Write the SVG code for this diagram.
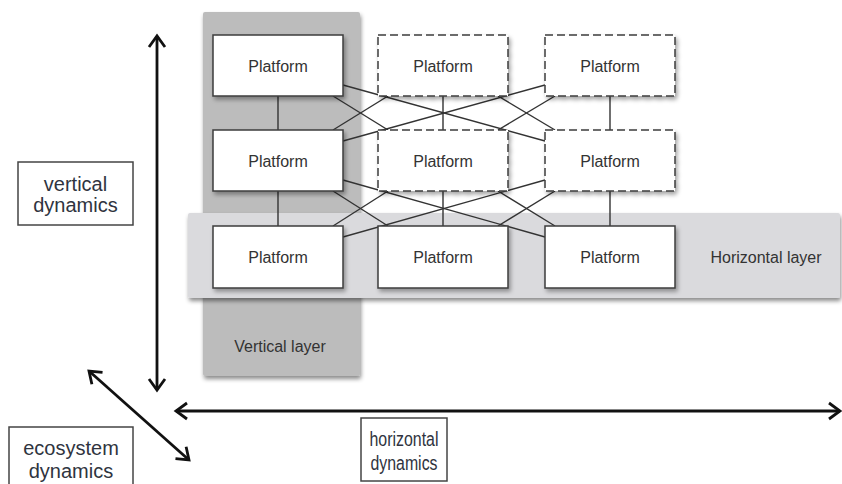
<svg xmlns="http://www.w3.org/2000/svg" width="842" height="484" viewBox="0 0 842 484">
  <defs>
    <filter id="layerShadow" x="-5%" y="-5%" width="112%" height="115%">
      <feDropShadow dx="1" dy="3" stdDeviation="2" flood-color="#000" flood-opacity="0.45"/>
    </filter>
    <filter id="boxShadow" x="-10%" y="-10%" width="125%" height="130%">
      <feDropShadow dx="2" dy="3" stdDeviation="2" flood-color="#000" flood-opacity="0.35"/>
    </filter>
    <marker id="chev" markerUnits="userSpaceOnUse" markerWidth="30" markerHeight="30" refX="15" refY="15" orient="auto-start-reverse" viewBox="0 0 30 30" overflow="visible">
      <path d="M4,7 L15,15 L4,23" fill="none" stroke="#111" stroke-width="2.8" stroke-linejoin="miter" stroke-linecap="butt"/>
    </marker>
    <style>
      .plat { fill: #fff; stroke: #3c3c3c; stroke-width: 1.5; filter: url(#boxShadow); }
      .dash { stroke-dasharray: 8 4; }
      .ptxt { font-family: "Liberation Sans", Arial, sans-serif; font-size: 16px; fill: #333; text-anchor: middle; }
      .ltxt { font-family: "Liberation Sans", Arial, sans-serif; font-size: 16px; fill: #333; text-anchor: middle; }
      .dtxt { font-family: "Liberation Sans", Arial, sans-serif; font-size: 20px; fill: #2f3440; text-anchor: middle; }
      .lbl { fill: #fff; stroke: #444; stroke-width: 1.5; }
      .link { stroke: #333; stroke-width: 1.4; fill: none; }
      .axis { stroke: #111; stroke-width: 2.8; fill: none; marker-start: url(#chev); marker-end: url(#chev); }
    </style>
  </defs>

  <rect width="842" height="484" fill="#fff"/>

  <!-- layer panels -->
  <g id="vertical-layer">
    <rect x="203" y="12" width="157" height="364" rx="2" fill="#bcbcbc" filter="url(#layerShadow)"/>
    <text class="ltxt" x="280" y="352">Vertical layer</text>
  </g>
  <g id="horizontal-layer">
    <rect x="188" y="213" width="652" height="85" rx="2" fill="#dadadd" filter="url(#layerShadow)"/>
    <text class="ltxt" x="766" y="263">Horizontal layer</text>
  </g>

  <!-- connectors between platforms -->
  <g id="connectors">
    <!-- rows 1-2: verticals -->
    <line class="link" x1="278" y1="96" x2="278" y2="130"/>
    <line class="link" x1="443" y1="96" x2="443" y2="130"/>
    <line class="link" x1="610" y1="96" x2="610" y2="130"/>
    <!-- rows 1-2: short diagonals -->
    <line class="link" x1="333" y1="96" x2="388" y2="130"/>
    <line class="link" x1="333" y1="130" x2="388" y2="96"/>
    <line class="link" x1="498" y1="96" x2="555" y2="130"/>
    <line class="link" x1="498" y1="130" x2="555" y2="96"/>
    <!-- rows 1-2: long diagonals -->
    <line class="link" x1="343" y1="85" x2="545" y2="141"/>
    <line class="link" x1="343" y1="141" x2="545" y2="85"/>

    <!-- rows 2-3: verticals -->
    <line class="link" x1="278" y1="191" x2="278" y2="226"/>
    <line class="link" x1="443" y1="191" x2="443" y2="226"/>
    <line class="link" x1="610" y1="191" x2="610" y2="226"/>
    <!-- rows 2-3: short diagonals -->
    <line class="link" x1="333" y1="191" x2="388" y2="226"/>
    <line class="link" x1="333" y1="226" x2="388" y2="191"/>
    <line class="link" x1="498" y1="191" x2="555" y2="226"/>
    <line class="link" x1="498" y1="226" x2="555" y2="191"/>
    <!-- rows 2-3: long diagonals -->
    <line class="link" x1="343" y1="180" x2="545" y2="237"/>
    <line class="link" x1="343" y1="237" x2="545" y2="180"/>
  </g>

  <!-- platforms -->
  <g id="p-1-1"><rect class="plat" x="213" y="35" width="130" height="61"/><text class="ptxt" x="278" y="72">Platform</text></g>
  <g id="p-1-2"><rect class="plat dash" x="378" y="35" width="130" height="61"/><text class="ptxt" x="443" y="72">Platform</text></g>
  <g id="p-1-3"><rect class="plat dash" x="545" y="35" width="130" height="61"/><text class="ptxt" x="610" y="72">Platform</text></g>

  <g id="p-2-1"><rect class="plat" x="213" y="130" width="130" height="61"/><text class="ptxt" x="278" y="167">Platform</text></g>
  <g id="p-2-2"><rect class="plat dash" x="378" y="130" width="130" height="61"/><text class="ptxt" x="443" y="167">Platform</text></g>
  <g id="p-2-3"><rect class="plat dash" x="545" y="130" width="130" height="61"/><text class="ptxt" x="610" y="167">Platform</text></g>

  <g id="p-3-1"><rect class="plat" x="213" y="226" width="130" height="62"/><text class="ptxt" x="278" y="263">Platform</text></g>
  <g id="p-3-2"><rect class="plat" x="378" y="226" width="130" height="62"/><text class="ptxt" x="443" y="263">Platform</text></g>
  <g id="p-3-3"><rect class="plat" x="545" y="226" width="130" height="62"/><text class="ptxt" x="610" y="263">Platform</text></g>

  <!-- dynamics axes -->
  <g id="axes">
    <line class="axis" x1="157" y1="36" x2="157" y2="390"/>
    <line class="axis" x1="176" y1="411" x2="840" y2="411"/>
    <line class="axis" x1="89" y1="371" x2="189" y2="460"/>
  </g>

  <!-- axis labels -->
  <g id="label-vertical">
    <rect class="lbl" x="18" y="162" width="115" height="63"/>
    <text class="dtxt" x="75.5" y="191">vertical</text>
    <text class="dtxt" x="75.5" y="212">dynamics</text>
  </g>
  <g id="label-ecosystem">
    <rect class="lbl" x="9" y="427" width="124" height="62"/>
    <text class="dtxt" x="71" y="455">ecosystem</text>
    <text class="dtxt" x="71" y="478">dynamics</text>
  </g>
  <g id="label-horizontal">
    <rect class="lbl" x="361" y="418" width="86" height="63"/>
    <text class="dtxt" x="404" y="446" font-size="19" textLength="69" lengthAdjust="spacingAndGlyphs">horizontal</text>
    <text class="dtxt" x="404" y="470" font-size="19" textLength="67" lengthAdjust="spacingAndGlyphs">dynamics</text>
  </g>
</svg>
